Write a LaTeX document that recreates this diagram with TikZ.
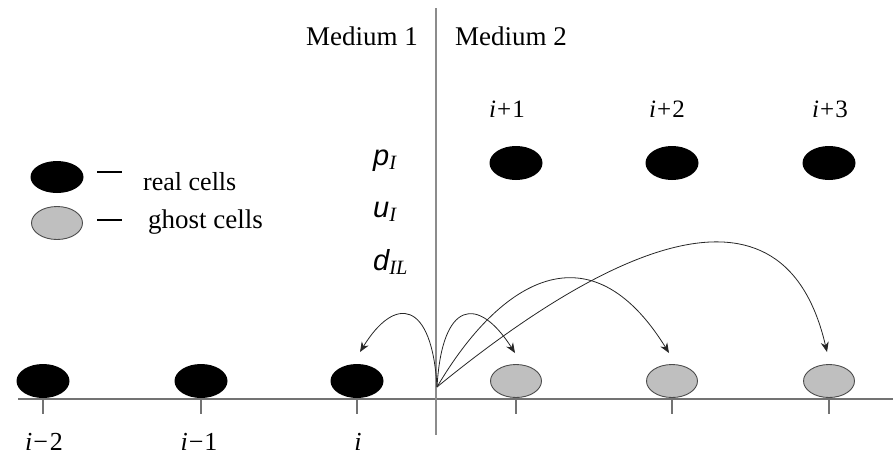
\documentclass[tikz,border=0pt]{standalone}
\usepackage{fontspec}
\setmainfont{Liberation Serif}
\newfontfamily\sansf{Liberation Sans}
\usetikzlibrary{arrows.meta,shapes.geometric}
\begin{document}
\begin{tikzpicture}[x=1pt,y=-1pt,
  realcell/.style={ellipse, fill=black, minimum width=53pt, minimum height=34pt, inner sep=0},
  ghostcell/.style={ellipse, fill=black!25, draw=black!70, line width=0.9pt, minimum width=51pt, minimum height=33pt, inner sep=0},
  axisline/.style={draw=black!55, line width=1.3pt},
  vline/.style={draw=black!45, line width=1.3pt},
  arr/.style={draw=black!85, line width=0.8pt, -{Stealth[length=10pt,width=8pt]}},
  lab/.style={font=\fontsize{27}{30}\selectfont, inner sep=0},
  idx/.style={font=\fontsize{25}{28}\selectfont, inner sep=0, anchor=base},
  var/.style={font=\fontsize{29}{32}\selectfont\sansf\itshape, inner sep=0, anchor=base west}
]
\useasboundingbox (0,0) rectangle (893,456);

% axes
\coordinate (axL) at (18,399);
\coordinate (axR) at (893,399);
\coordinate (vt) at (436,8);
\coordinate (vb) at (436,435);
\draw[axisline] (axL) -- (axR);
\draw[vline] (vt) -- (vb);

% bottom row cells
\node[realcell] (cL2) at (43,381) {};
\node[realcell] (cL1) at (201,381) {};
\node[realcell] (cI) at (357,381) {};
\node[ghostcell] (g1) at (516,381) {};
\node[ghostcell] (g2) at (672,381) {};
\node[ghostcell] (g3) at (829,381) {};

% ticks
\foreach \c in {cL2,cL1,cI,g1,g2,g3}{
  \draw[axisline] (\c.center |- axL) -- ++(0,15);
}

% top row cells
\node[realcell] (r1) at (516,163) {};
\node[realcell] (r2) at (672,163) {};
\node[realcell] (r3) at (829,163) {};

% index labels
\node[idx] (lr1) at (507,117) {\textit{i}\kern1pt+\kern1pt1};
\node[idx] (lr2) at (667,117) {\textit{i}\kern1pt+\kern1pt2};
\node[idx] (lr3) at (830,117) {\textit{i}\kern1pt+\kern1pt3};
\node[idx, font=\fontsize{26}{29}\selectfont] (lb2) at (44,450) {\textit{i}\kern1pt\textminus\kern2pt2};
\node[idx, font=\fontsize{26}{29}\selectfont] (lb1) at (199,450) {\textit{i}\kern1pt\textminus\kern1pt1};
\node[idx, font=\fontsize{26}{29}\selectfont] (lb0) at (358,450) {\textit{i}};

% medium labels
\node[lab, anchor=base east] (m1) at (418,45) {Medium 1};
\node[lab, anchor=base west] (m2) at (455,45) {Medium 2};

% interface variables
\node[var] (pI) at (373,165) {p\textsubscript{\rmfamily I}};
\node[var] (uI) at (373,217) {u\textsubscript{\rmfamily I}};
\node[var] (dIL) at (373,270) {d\textsubscript{\rmfamily IL}};

% legend
\node[realcell, minimum height=32pt] (lgr) at (57,177) {};
\node[ghostcell] (lgg) at (57,223) {};
\coordinate (d1a) at (97,172); \coordinate (d1b) at (122,172);
\coordinate (d2a) at (97,220); \coordinate (d2b) at (122,220);
\draw[line width=2.6pt] (d1a) -- (d1b);
\draw[line width=2.6pt] (d2a) -- (d2b);
\node[lab, anchor=base west, font=\fontsize{26}{30}\selectfont] (tr) at (143,190) {real cells};
\node[lab, anchor=base west] (tg) at (148,228) {ghost cells};

% extrapolation arrows
\coordinate (o) at (437,387);
\coordinate (t0) at (360,352);
\coordinate (t1) at (515,353);
\coordinate (t2) at (669,353);
\coordinate (t3) at (827,352);
\draw[arr] (o) .. controls (432,300) and (395,295) .. (t0);
\draw[arr] (o) .. controls (442,300) and (478,295) .. (t1);
\draw[arr] (o) .. controls (500,280) and (590,225) .. (t2);
\draw[arr] (o) .. controls (580,270) and (780,150) .. (t3);
\end{tikzpicture}
\end{document}
